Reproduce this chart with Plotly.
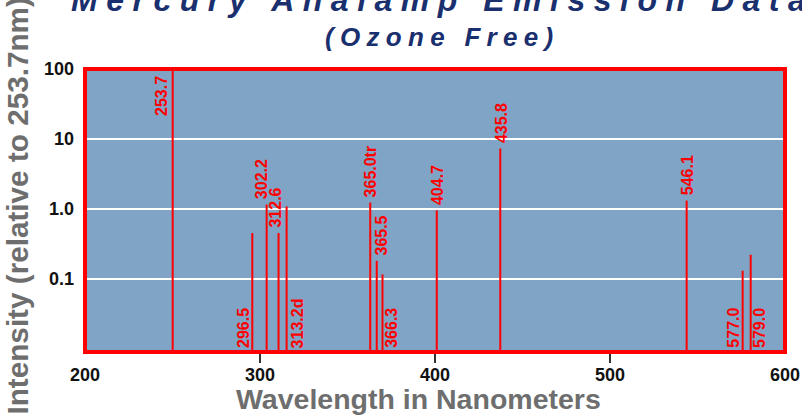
import math
import plotly.graph_objects as go

# ---------------- data ----------------
line_labels = ["253.7", "296.5", "302.2", "312.6", "313.2d", "365.0tr", "365.5",
               "366.3", "404.7", "435.8", "546.1", "577.0", "579.0"]
line_x = [250.1, 295.6, 303.8, 310.6, 315.2, 363.0, 366.7, 370.0, 401.0,
          437.3, 543.8, 575.8, 580.4]
intensity = [100, 0.45, 1.15, 0.45, 1.08, 1.23, 0.18, 0.115, 0.95, 7.3,
             1.31, 0.13, 0.22]

y_tick_vals = [0.1, 1, 10, 100]
y_tick_text = ["0.1", "1.0", "10", "100"]
x_tick_vals = [200, 300, 400, 500, 600]
x_tick_marks = [300, 400, 500]

title_1 = "Mercury Analamp Emission Data"
title_2 = "(Ozone Free)"
x_title = "Wavelength in Nanometers"
y_title = "Intensity (relative to 253.7nm)"

# ---------------- label placement (style only) ----------------
label_place = ["topin", "bottom", "top", "top", "bottom", "top", "top",
               "bottom", "top", "top", "top", "bottom", "bottom"]
label_dx = [-11.7, -9.3, -5, -3, 10.8, 0.7, 5, 8.3, 1, 1.4, 1, -10, 8.3]

Y_LOG_RANGE = [-2.05, 2.0]
FONT = "Liberation Sans, Arial, Helvetica, sans-serif"
RED = "#ff0000"
NAVY = "#1a2f6e"
GRAY = "#6e6e6e"

xs, ys = [], []
for x, v in zip(line_x, intensity):
    xs += [x, x, None]
    ys += [1e-3, v, None]

fig = go.Figure()
fig.add_trace(go.Scatter(x=xs, y=ys, mode="lines",
                         line=dict(color=RED, width=2),
                         hoverinfo="skip", showlegend=False))
# helper trace so the tick-mark overlay axis is drawn
fig.add_trace(go.Scatter(x=[400], y=[1], xaxis="x2", mode="markers",
                         marker=dict(opacity=0), hoverinfo="skip",
                         showlegend=False))

annotations = []
for lab, x, v, place, dx in zip(line_labels, line_x, intensity, label_place, label_dx):
    if place == "top":
        y, ya, ysh = math.log10(v), "bottom", 3
    elif place == "bottom":
        y, ya, ysh = Y_LOG_RANGE[0], "bottom", 2
    else:
        y, ya, ysh = Y_LOG_RANGE[1], "top", -5
    annotations.append(dict(x=x, y=y, xref="x", yref="y", text=lab,
                            textangle=-90, showarrow=False,
                            xanchor="center", yanchor=ya, xshift=dx, yshift=ysh,
                            font=dict(family=FONT, size=16, color=RED, weight="bold")))

annotations.append(dict(
    x=0.511, y=1.245, xref="paper", yref="paper", xanchor="center", yanchor="middle",
    showarrow=False,
    text='<span style="letter-spacing:8.5px">' + title_1 + '</span>',
    font=dict(family=FONT, size=32, color=NAVY, weight="bold", style="italic")))
annotations.append(dict(
    x=0.511, y=1.113, xref="paper", yref="paper", xanchor="center", yanchor="middle",
    showarrow=False,
    text='<span style="letter-spacing:6.3px">' + title_2 + '</span>',
    font=dict(family=FONT, size=26, color=NAVY, weight="bold", style="italic")))
annotations.append(dict(
    x=-0.0957, y=0.514, xref="paper", yref="paper", xanchor="center", yanchor="middle",
    showarrow=False, textangle=-90, text=y_title,
    font=dict(family=FONT, size=29.7, color=GRAY, weight="bold")))
annotations.append(dict(
    x=0.4771, y=-0.167, xref="paper", yref="paper", xanchor="center", yanchor="middle",
    showarrow=False, text=x_title,
    font=dict(family=FONT, size=28.5, color=GRAY, weight="bold")))

fig.update_layout(
    width=802, height=416,
    margin=dict(l=85, r=17, t=69, b=64),
    paper_bgcolor="white",
    plot_bgcolor="#80a4c6",
    showlegend=False,
    xaxis=dict(range=[200, 600], tickvals=x_tick_vals, ticks="",
               showgrid=False, zeroline=False, showline=False, automargin=False,
               tickfont=dict(family=FONT, size=18, color="#111111", weight="bold"),
               ticklabelstandoff=10),
    xaxis2=dict(range=[200, 600], overlaying="x", anchor="y", side="bottom",
                tickvals=x_tick_marks, ticks="outside", ticklen=10, tickwidth=2,
                tickcolor="#333333", showticklabels=False, showgrid=False,
                zeroline=False, showline=False, automargin=False),
    yaxis=dict(type="log", range=Y_LOG_RANGE, tickvals=y_tick_vals,
               ticktext=y_tick_text, ticks="", showgrid=True, automargin=False,
               gridcolor="white", gridwidth=2, zeroline=False, showline=False,
               tickfont=dict(family=FONT, size=18, color="#111111", weight="bold"),
               ticklabelstandoff=10),
    annotations=annotations,
    shapes=[dict(type="rect", xref="paper", yref="paper", x0=0, x1=1, y0=0, y1=1,
                 line=dict(color=RED, width=4), layer="above")],
)

fig.write_html("out.html",
               config={"displayModeBar": False},
               post_script="document.body.style.margin='0';"
                           "document.body.style.overflow='hidden';")
